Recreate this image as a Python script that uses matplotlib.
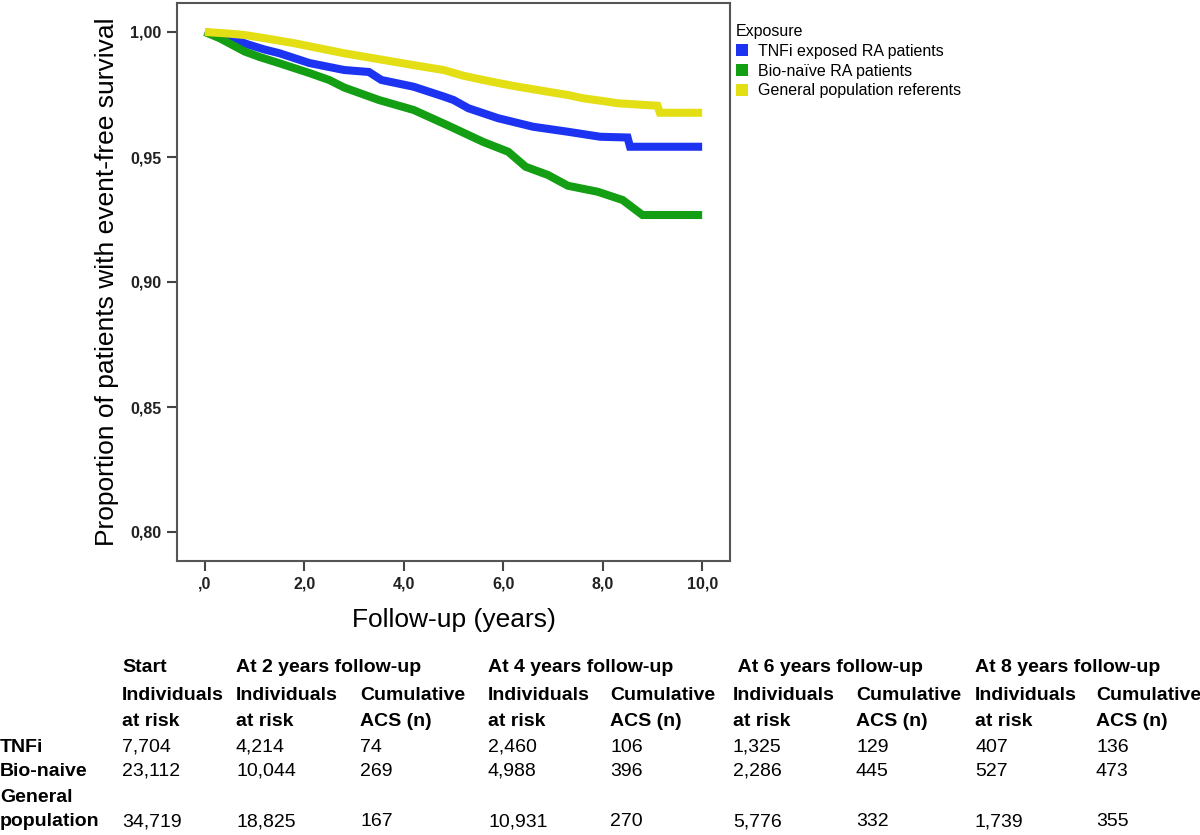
import matplotlib
matplotlib.use("Agg")
import matplotlib.pyplot as plt
from matplotlib.patches import Patch
from matplotlib.ticker import FuncFormatter

plt.rcParams['font.family'] = ['Liberation Sans', 'DejaVu Sans']

## Curve data
t_tnfi = [0.0, 0.4, 0.87, 1.2, 1.5, 2.1, 2.8, 3.3, 3.55, 4.2, 4.8, 5.0, 5.3, 5.9, 6.6, 7.3, 7.95, 8.5, 8.55, 10.0]
s_tnfi = [1.000, 0.9985, 0.9950, 0.9930, 0.9915, 0.9876, 0.9848, 0.9840, 0.9808, 0.9781, 0.9742,
          0.9728, 0.9695, 0.9655, 0.9621, 0.9601, 0.9581, 0.9578, 0.9541, 0.9541]

t_bio = [0.0, 0.3, 0.8, 1.1, 1.5, 2.1, 2.5, 2.8, 3.5, 4.2, 4.9, 5.6, 6.1, 6.45, 6.9, 7.3, 7.9, 8.4, 8.8, 10.0]
s_bio = [1.000, 0.9975, 0.9922, 0.9900, 0.9875, 0.9836, 0.9808, 0.9778, 0.9728, 0.9688, 0.9625,
         0.9560, 0.9521, 0.9461, 0.9428, 0.9385, 0.9361, 0.9328, 0.9268, 0.9268]

t_gen = [0.0, 0.4, 0.8, 1.3, 1.8, 2.3, 2.8, 3.3, 3.8, 4.3, 4.8, 5.2, 5.6, 6.0, 6.3, 6.9, 7.3, 7.6,
         8.0, 8.3, 9.1, 9.15, 10.0]
s_gen = [1.000, 0.9995, 0.9988, 0.9972, 0.9955, 0.9935, 0.9915, 0.9898, 0.9881, 0.9864, 0.9848,
         0.9825, 0.9808, 0.9792, 0.9781, 0.9761, 0.9748, 0.9735, 0.9724, 0.9715, 0.9705, 0.9677, 0.9677]

series_labels = ['TNFi exposed RA patients', 'Bio-naïve RA patients', 'General population referents']
series_colors = ['#1c34f2', '#139e13', '#e4df14']

## Risk table data
row_labels = ['TNFi', 'Bio-naive', 'General\npopulation']
start_risk = ['7,704', '23,112', '34,719']
risk_2 = ['4,214', '10,044', '18,825']
acs_2 = ['74', '269', '167']
risk_4 = ['2,460', '4,988', '10,931']
acs_4 = ['106', '396', '270']
risk_6 = ['1,325', '2,286', '5,776']
acs_6 = ['129', '445', '332']
risk_8 = ['407', '527', '1,739']
acs_8 = ['136', '473', '355']
period_titles = ['At 2 years follow-up', 'At 4 years follow-up', ' At 6 years follow-up', 'At 8 years follow-up']

W, H = 1200, 835
fig = plt.figure(figsize=(W / 100, H / 100), dpi=100)
ax = fig.add_axes([177 / W, 1 - 561 / H, (730 - 177) / W, (561 - 3) / H])

# draw order: blue under green under yellow
for t, s, c in zip([t_tnfi, t_bio, t_gen], [s_tnfi, s_bio, s_gen], series_colors):
    ax.plot(t, s, color=c, lw=5.8, solid_capstyle='butt', solid_joinstyle='miter')

ax.set_xlim(-0.56, 10.56)
ax.set_ylim(0.7884, 1.0116)
ax.set_xticks([0, 2, 4, 6, 8, 10])
ax.set_yticks([0.80, 0.85, 0.90, 0.95, 1.00])


def xfmt(v, pos):
    s = f"{v:.1f}".replace('.', ',')
    return s[1:] if s.startswith('0,') else s


ax.xaxis.set_major_formatter(FuncFormatter(xfmt))
ax.yaxis.set_major_formatter(FuncFormatter(lambda v, p: f"{v:.2f}".replace('.', ',')))
ax.tick_params(direction='out', length=7, width=1.5, color='#444444', pad=4)
tick_font = dict(family=['Liberation Sans Narrow', 'Liberation Sans'], weight='bold', size=11.5)
for lab in ax.get_xticklabels() + ax.get_yticklabels():
    lab.set_fontproperties(matplotlib.font_manager.FontProperties(**tick_font))
    lab.set_color('#222222')
for sp in ax.spines.values():
    sp.set_color('#555555')
    sp.set_linewidth(1.5)

ax.set_ylabel('Proportion of patients with event-free survival', fontsize=19, labelpad=8)
ax.set_xlabel('Follow-up (years)', fontsize=19, labelpad=12)

# legend
handles = [Patch(facecolor=c, edgecolor='none') for c in series_colors]
leg = fig.legend(handles, series_labels, title='Exposure', loc='upper left',
                 bbox_to_anchor=(736 / W, 1 - 24 / H), frameon=False, fontsize=11.5,
                 title_fontsize=11.5, handlelength=0.75, handleheight=0.75, handletextpad=0.6,
                 labelspacing=0.3, borderpad=0, borderaxespad=0, alignment='left')

# risk table
def px(x, y):
    return x / W, 1 - y / H


col_x = [122, 236, 360, 488, 610, 733, 856, 975, 1096]
row_y = [747, 771, 822]
hdr = dict(fontsize=14, fontweight='bold', va='center', ha='left')
txt = dict(fontsize=14, va='center', ha='left')

fig.text(*px(col_x[0], 668), 'Start', **hdr)
fig.text(*px(col_x[0], 695), 'Individuals', **hdr)
fig.text(*px(col_x[0], 722), 'at risk', **hdr)
for k, title in enumerate(period_titles):
    xi = col_x[1 + 2 * k]
    fig.text(*px(xi, 668), title, **hdr)
    fig.text(*px(xi, 695), 'Individuals', **hdr)
    fig.text(*px(xi, 722), 'at risk', **hdr)
    fig.text(*px(col_x[2 + 2 * k], 695), 'Cumulative', **hdr)
    fig.text(*px(col_x[2 + 2 * k], 722), 'ACS (n)', **hdr)

fig.text(*px(0, 747), row_labels[0], **hdr)
fig.text(*px(0, 771), row_labels[1], **hdr)
fig.text(*px(0, 797), row_labels[2].split('\n')[0], **hdr)
fig.text(*px(0, 822), row_labels[2].split('\n')[1], **hdr)

columns = [start_risk, risk_2, acs_2, risk_4, acs_4, risk_6, acs_6, risk_8, acs_8]
for ci, col in enumerate(columns):
    for ri, val in enumerate(col):
        fig.text(*px(col_x[ci], row_y[ri]), val, **txt)

fig.savefig('out.png', dpi=100)
